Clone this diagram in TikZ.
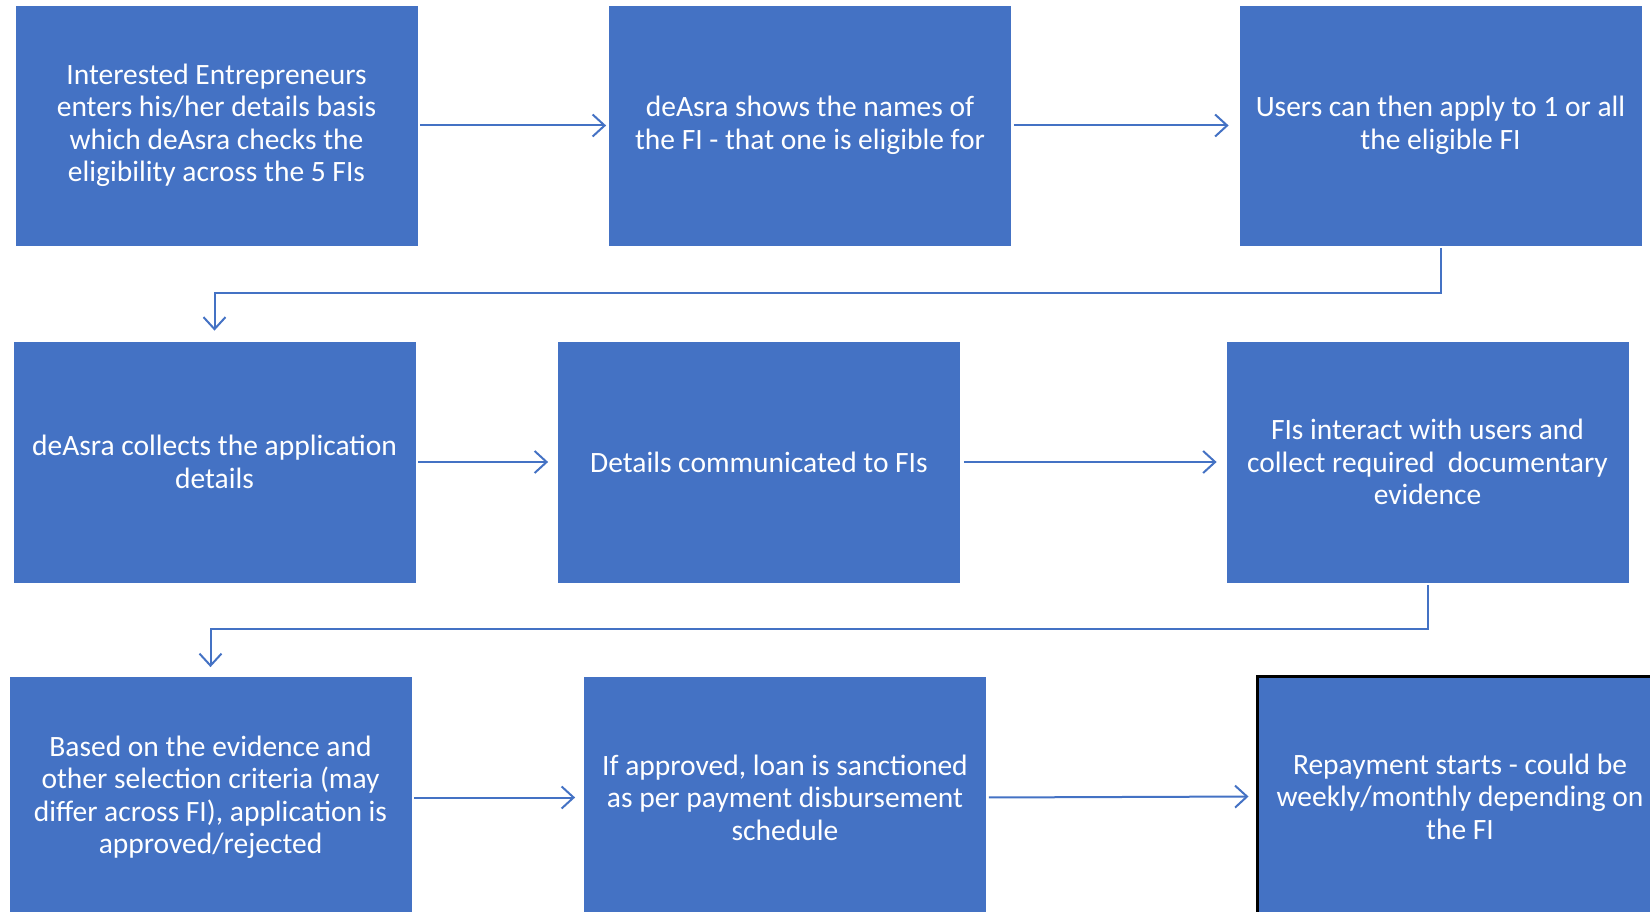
\documentclass[tikz,border=0pt]{standalone}
\usepackage{fontspec}
\setmainfont{Carlito}
\usetikzlibrary{arrows.meta}
\definecolor{obl}{HTML}{4472C4}
\begin{document}
\begin{tikzpicture}[x=1pt,y=-1pt,
  box/.style={rectangle, fill=obl, draw=obl, line width=0.8pt, text=white, align=center,
    minimum width=401pt, minimum height=239pt, inner sep=0pt,
    font=\fontsize{29.5}{32.5}\selectfont},
  conn/.style={draw=obl, line width=2pt, -{Straight Barb[length=12pt,width=22pt,line width=2pt]}}]
\useasboundingbox (0,0) rectangle (1650,912);
\node[box] (b1) at (216.5,125.5) {Interested Entrepreneurs\\enters his/her details basis\\which deAsra checks the\\eligibility across the 5 FIs};
\node[box] (b2) at (810,125.5) {deAsra shows the names of\\the FI - that one is eligible for};
\node[box] (b3) at (1440.5,125.5) {Users can then apply to 1 or all\\the eligible FI};
\node[box, minimum height=240pt] (b4) at (214.5,462) {deAsra collects the application\\details};
\node[box, minimum height=240pt] (b5) at (759,462) {Details communicated to FIs};
\node[box, minimum height=240pt] (b6) at (1427.5,462) {FIs interact with users and\\collect required\ \ documentary\\evidence};
\node[box, minimum height=240pt] (b7) at (210.5,797.5) {Based on the evidence and\\other selection criteria (may\\differ across FI), application is\\approved/rejected};
\node[box, minimum height=240pt] (b8) at (785,797.5) {If approved, loan is sanctioned\\as per payment disbursement\\schedule};
\node[box, minimum height=240pt, minimum width=406pt, draw=black, line width=3pt] (b9) at (1460,796.5) {Repayment starts - could be\\weekly/monthly depending on\\the FI};
\draw[conn, shorten <=3pt, shorten >=3pt] (b1.east) -- (b2.west);
\draw[conn, shorten <=3pt, shorten >=11pt] (b2.east) -- (b3.west);
\draw[conn, shorten <=3pt, shorten >=11pt] (b3.south) -- ++(0,48) -| (b4.north);
\draw[conn, shorten <=3pt, shorten >=10pt] (b4.east) -- (b5.west);
\draw[conn, shorten <=4pt, shorten >=10pt] (b5.east) -- (b6.west);
\draw[conn, shorten <=3pt, shorten >=10pt] (b6.south) -- ++(0,47) -| (b7.north);
\draw[conn, shorten <=3pt, shorten >=9pt] (b7.east) -- (b8.west);
\draw[conn, shorten <=3pt, shorten >=7pt] (b8.east) -- (b9.west);
\end{tikzpicture}
\end{document}
